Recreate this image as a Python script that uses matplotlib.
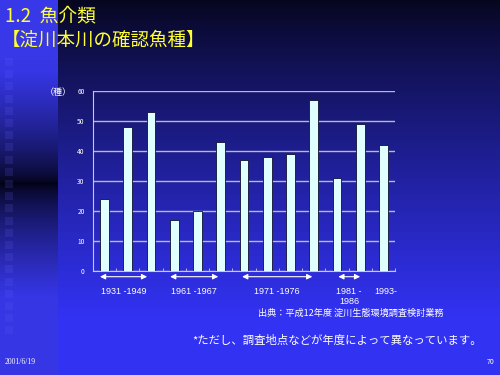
import numpy as np
import matplotlib
matplotlib.use('Agg')
import matplotlib.pyplot as plt
from matplotlib.patches import Rectangle

plt.rcParams['font.family'] = ['Noto Sans CJK JP', 'DejaVu Sans']

# データ（淀川本川の確認魚種数）
species = [24, 48, 53, 17, 20, 43, 37, 38, 39, 57, 31, 49, 42]
y_ticks = [0, 10, 20, 30, 40, 50, 60]
# 期間の矢印: (開始, 終了, ラベル)  ※バー番号単位
periods = [(-0.2, 1.83, '1931 -1949'), (2.82, 4.89, '1961 -1967'),
           (5.92, 8.94, '1971 -1976'), (10.06, 11.0, '1981 -\n1986')]
last_label = '1993-'

W, H = 500, 375
fig = plt.figure(figsize=(5, 3.75), dpi=100)

# ============== 背景 ==============
bg_ax = fig.add_axes([0, 0, 1, 1])
yy = np.linspace(0, H, H)[:, None]
t = np.clip(yy / 315, 0, 1) ** 0.85
top_c = np.array([6, 6, 30]) / 255
bot_c = np.array([50, 50, 242]) / 255
img = np.zeros((H, W, 3))
img[:] = (top_c + (bot_c - top_c) * t)[:, None, :]
# 左の帯
strip = 58
band = np.abs(yy[:, 0] / H - 0.49)
dark = np.clip(band / 0.3, 0, 1) ** 0.7
strip_top = np.array([54, 54, 230]) / 255
strip_dark = np.array([2, 2, 20]) / 255
strip_c = strip_dark + (strip_top - strip_dark) * dark[:, None]
img[:, :strip, :] = strip_c[:, None, :]
img[:60, :strip, :] = np.array([56, 56, 232]) / 255
bg_ax.imshow(img, extent=[0, W, H, 0], aspect='auto')
bg_ax.set_xlim(0, W)
bg_ax.set_ylim(H, 0)
bg_ax.axis('off')

# 左の四角
for k in range(23):
    y0 = 58 + k * 12.2
    bg_ax.add_patch(Rectangle((5, y0), 8, 8, facecolor='#6a6aff', alpha=0.15, edgecolor='none'))

# タイトル
bg_ax.text(5, 16, '1.2  魚介類', color='#ffff33', fontsize=13.5, va='center', ha='left')
bg_ax.text(2, 41, '【淀川本川の確認魚種】', color='#ffff33', fontsize=13.3, va='center', ha='left')
bg_ax.text(58, 93, '（種）', color='white', fontsize=6.5, va='center', ha='center')
bg_ax.text(351, 313, '出典：平成12年度 淀川生態環境調査検討業務', color='white', fontsize=6.6, va='center', ha='center')
bg_ax.text(337, 340, '*ただし、調査地点などが年度によって異なっています。', color='white', fontsize=8.2, va='center', ha='center')
bg_ax.text(5, 362, '2001/6/19', color='white', fontsize=5.5, va='center', ha='left', family='Liberation Serif')
bg_ax.text(494, 362, '70', color='white', fontsize=5, va='center', ha='right')

# ============== グラフ ==============
ax = fig.add_axes([93 / W, 1 - 271 / H, 302 / W, 180 / H])
ax.patch.set_alpha(0)
x = np.arange(len(species))
ax.bar(x, species, width=0.38, color='#e0ffff', edgecolor='#101030', linewidth=0.6, zorder=3)
ax.set_xlim(-0.5, len(species) - 0.5)
ax.set_ylim(0, 60)
ax.set_yticks(y_ticks)
ax.set_yticklabels([str(v) for v in y_ticks], color='white', fontsize=4.8)
ax.tick_params(axis='y', length=0, pad=6)
ax.set_xticks(np.arange(-0.5, len(species), 1))
ax.set_xticklabels([])
ax.tick_params(axis='x', direction='in', length=2, color='#c8c8e0', width=0.6)
ax.grid(axis='y', color='#b8b8d0', linewidth=1.0, zorder=0)
for s in ['top', 'right']:
    ax.spines[s].set_visible(False)
for s in ['left', 'bottom']:
    ax.spines[s].set_color('#c8c8e0')
    ax.spines[s].set_linewidth(0.8)

# 期間の矢印とラベル
for x0, x1, lab in periods:
    ax.annotate('', xy=(x0, -1.9), xytext=(x1, -1.9),
                xycoords='data', textcoords='data', annotation_clip=False,
                arrowprops=dict(arrowstyle='<|-|>', color='white', lw=0.8,
                                mutation_scale=8, shrinkA=0, shrinkB=0))
    lines = lab.split('\n')
    xc = (x0 + x1) / 2
    ax.text(xc, -6.7, lines[0], color='white', fontsize=6.5,
            ha='center', va='center', family='Liberation Sans', clip_on=False)
    if len(lines) > 1:
        ax.text(xc, -10.3, lines[1], color='white', fontsize=6.5,
                ha='center', va='center', family='Liberation Sans', clip_on=False)
ax.text(len(species) - 1 + 0.1, -6.7, last_label, color='white', fontsize=6.5,
        ha='center', va='center', family='Liberation Sans', clip_on=False)

fig.savefig('out.png', dpi=100)
